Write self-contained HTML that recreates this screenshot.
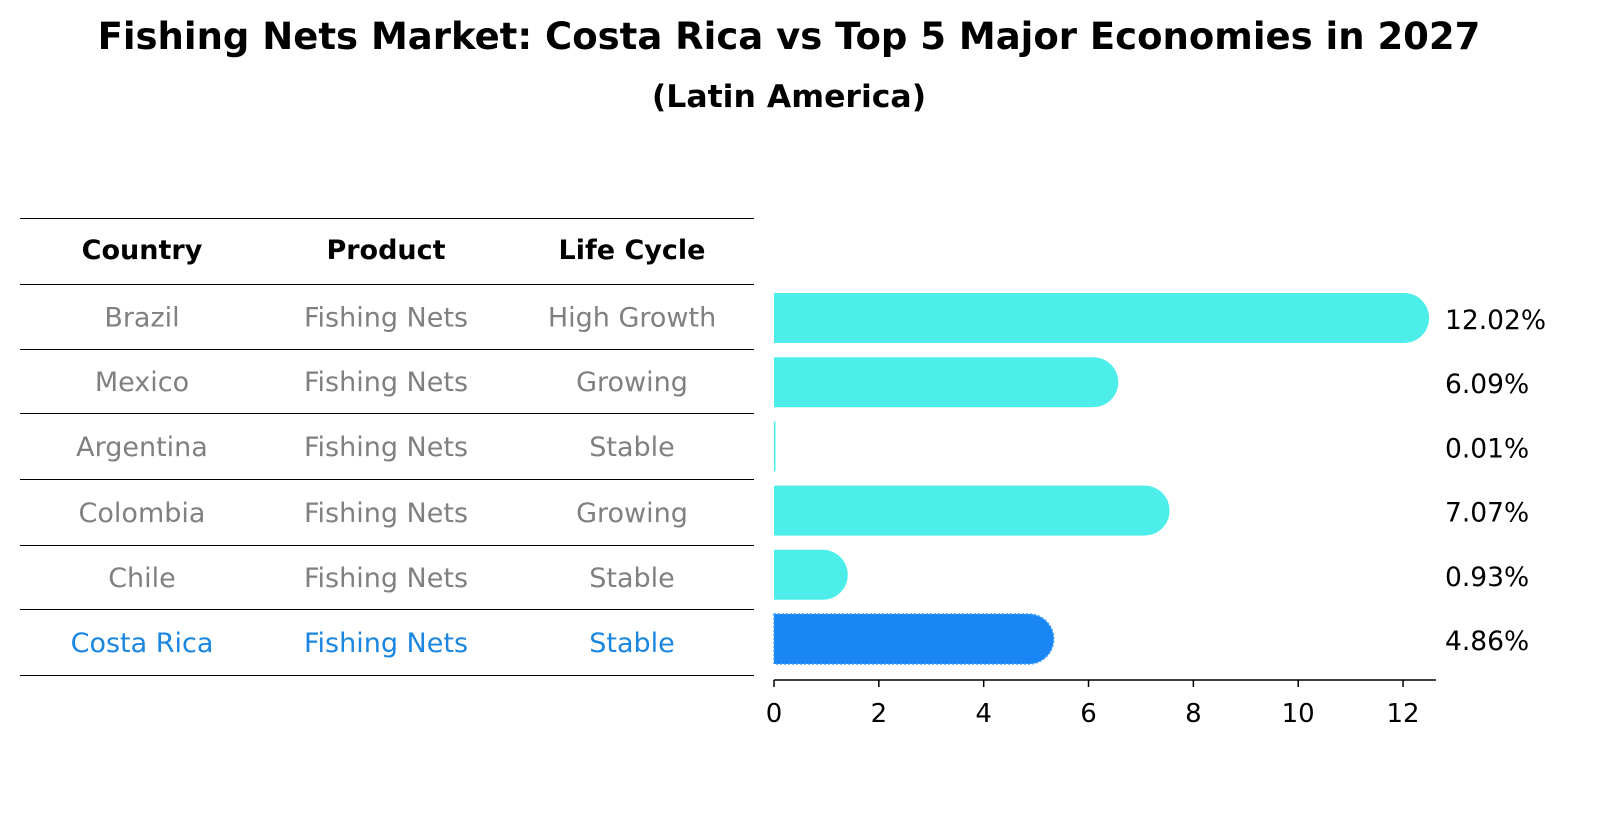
<!DOCTYPE html>
<html><head><meta charset="utf-8"><style>
body{margin:0;background:#fff;font-family:"DejaVu Sans","Liberation Sans",sans-serif;}
#wrap{position:relative;width:1604px;height:823px;overflow:hidden;}
.t{position:absolute;white-space:nowrap;}
</style></head><body>
<div id="wrap">
<div class="t" style="left:0;width:1578px;text-align:center;top:14px;font-size:37px;line-height:46px;font-weight:bold;">Fishing Nets Market: Costa Rica vs Top 5 Major Economies in 2027</div>
<div class="t" style="left:0;width:1578px;text-align:center;top:77px;font-size:31.5px;line-height:40px;font-weight:bold;">(Latin America)</div>
<svg id="svg" width="1604" height="823" style="position:absolute;left:0;top:0"></svg>
</div>
<script>
const countries=["Brazil","Mexico","Argentina","Colombia","Chile","Costa Rica"];
const products=["Fishing Nets","Fishing Nets","Fishing Nets","Fishing Nets","Fishing Nets","Fishing Nets"];
const lifeCycles=["High Growth","Growing","Stable","Growing","Stable","Stable"];
const values=[12.02,6.09,0.01,7.07,0.93,4.86];
const xTicks=[0,2,4,6,8,10,12];
const NS="http://www.w3.org/2000/svg";
const svg=document.getElementById('svg');
function mk(t,a,p){const e=document.createElementNS(NS,t);for(const k in a)e.setAttribute(k,a[k]);(p||svg).appendChild(e);return e;}
const x0=774,ppu=52.42;
const X=v=>x0+v*ppu;
const rowY=i=>318+i*64.2;
const colX=[142,386,632];
const FS='27';
const lines=[218,284,349,413,479,545,609,675];
lines.forEach((y,i)=>{const l=mk('line',{x1:20,x2:754,y1:y+0.5,y2:y+0.5,stroke:'#000','stroke-width':1});
});
["Country","Product","Life Cycle"].forEach((h,j)=>{const t=mk('text',{x:colX[j],y:259,'text-anchor':'middle','font-size':FS,'font-weight':'bold','font-family':'DejaVu Sans, sans-serif'});t.textContent=h;
});
countries.forEach((c,i)=>{const col=i==5?'#1a86e0':'#808080';
[c,products[i],lifeCycles[i]].forEach((s,j)=>{const t=mk('text',{x:colX[j],y:(lines[i+1]+lines[i+2])/2+10,'text-anchor':'middle','font-size':FS,fill:col,'font-family':'DejaVu Sans, sans-serif'});t.textContent=s;
});});
const h=50,r=25;
values.forEach((v,i)=>{const yc=rowY(i),w=Math.max(0.5,X(v)-x0);const hl=i==5;
const fill=hl?'#1a86f5':'#4deeea';
const d=`M${x0},${yc-h/2} H${x0+w} A${r},${r} 0 0 1 ${x0+w},${yc+h/2} H${x0} Z`;
const p=v<0.1?mk('rect',{x:x0,y:yc-h/2,width:1.5,height:h,fill:fill}):mk('path',{d:d,fill:fill});
if(hl){p.setAttribute('stroke','#3fa0ff');p.setAttribute('stroke-dasharray','2 2');p.setAttribute('stroke-width','1.5');}

const t=mk('text',{x:1445,y:yc+11,'font-size':'26.5','font-family':'DejaVu Sans, sans-serif'});t.textContent=v.toFixed(2)+'%';
});
const ax=mk('line',{x1:x0,x2:1436,y1:680,y2:680,stroke:'#000','stroke-width':1.5});

xTicks.forEach(v=>{const l=mk('line',{x1:X(v),x2:X(v),y1:680,y2:687,stroke:'#000','stroke-width':1.5});

const t=mk('text',{x:X(v),y:722,'text-anchor':'middle','font-size':'26','font-family':'DejaVu Sans, sans-serif'});t.textContent=v;
});
</script>
</body></html>
